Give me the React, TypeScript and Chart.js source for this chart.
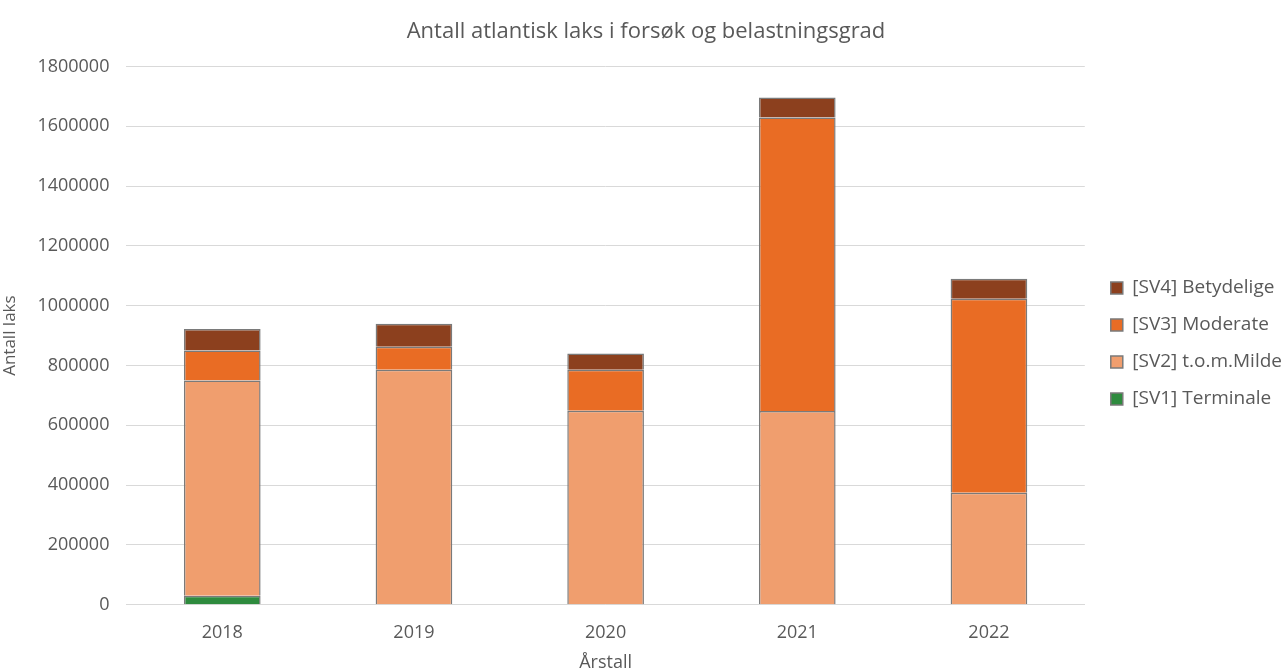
import React, { useEffect, useRef } from "react";
import { Chart, registerables } from "chart.js";

Chart.register(...registerables);

const years = ["2018", "2019", "2020", "2021", "2022"];
const sv1Terminale = [30000, 2000, 2000, 2000, 2000];
const sv2Milde = [720000, 784000, 647000, 646000, 373000];
const sv3Moderate = [100000, 77000, 137000, 981000, 648000];
const sv4Betydelige = [72000, 77000, 54000, 67000, 67000];

const FONT = "'Open Sans', 'Noto Sans', sans-serif";

export default function App() {
  const ref = useRef<HTMLCanvasElement | null>(null);
  useEffect(() => {
    document.body.style.margin = "0";
    const ctx = ref.current!;
    const border = "#7a7a7a";
    const chart = new Chart(ctx, {
      type: "bar",
      data: {
        labels: years,
        datasets: [
          { label: "[SV1] Terminale", data: sv1Terminale, backgroundColor: "#2e8b3e", borderColor: border, borderWidth: 1.5 },
          { label: "[SV2] t.o.m.Milde", data: sv2Milde, backgroundColor: "#f09e6e", borderColor: border, borderWidth: 1.5 },
          { label: "[SV3] Moderate", data: sv3Moderate, backgroundColor: "#e96c24", borderColor: border, borderWidth: 1.5 },
          { label: "[SV4] Betydelige", data: sv4Betydelige, backgroundColor: "#8c401e", borderColor: border, borderWidth: 1.5 },
        ],
      },
      options: {
        responsive: false,
        animation: false,
        layout: { padding: { left: 0, right: -9, top: 13, bottom: -3 } },
        datasets: { bar: { categoryPercentage: 1, barPercentage: 0.4 } },
        plugins: {
          title: {
            display: true,
            text: "Antall atlantisk laks i forsøk og belastningsgrad",
            color: "#595959",
            font: { family: FONT, size: 22, weight: "normal" },
            padding: { top: 6, bottom: 21 },
          },
          legend: {
            position: "right",
            reverse: true,
            labels: {
              color: "#595959",
              font: { family: FONT, size: 19 },
              boxWidth: 12,
              boxHeight: 12,
              padding: 18,
            },
          },
          tooltip: { enabled: false },
        },
        scales: {
          x: {
            stacked: true,
            grid: { display: false },
            border: { color: "#d9d9d9" },
            ticks: { color: "#595959", font: { family: FONT, size: 18 }, padding: 9 },
            title: { display: true, text: "Årstall", color: "#595959", font: { family: FONT, size: 18 }, padding: { top: 0, bottom: 0 } },
          },
          y: {
            stacked: true,
            min: 0,
            max: 1800000,
            grid: { color: "#d9d9d9", drawTicks: false },
            border: { display: false },
            ticks: {
              stepSize: 200000,
              color: "#595959",
              font: { family: FONT, size: 18 },
              padding: 17,
              callback: (v: any) => String(v),
            },
            title: { display: true, text: "Antall laks", color: "#595959", font: { family: FONT, size: 17 }, padding: { top: 0, bottom: 0 } },
          },
          gap: {
            type: "linear",
            position: "right",
            display: true,
            grid: { display: false, drawTicks: false },
            border: { display: false },
            ticks: { display: false },
            afterFit: (s: any) => {
              s.width = 8;
            },
          },
        },
      },
    });
    return () => chart.destroy();
  }, []);
  return (
    <div style={{ position: "fixed", left: 0, top: 0, width: 1283, height: 671, background: "#fff" }}>
      <canvas ref={ref} width={1283} height={671} />
    </div>
  );
}
